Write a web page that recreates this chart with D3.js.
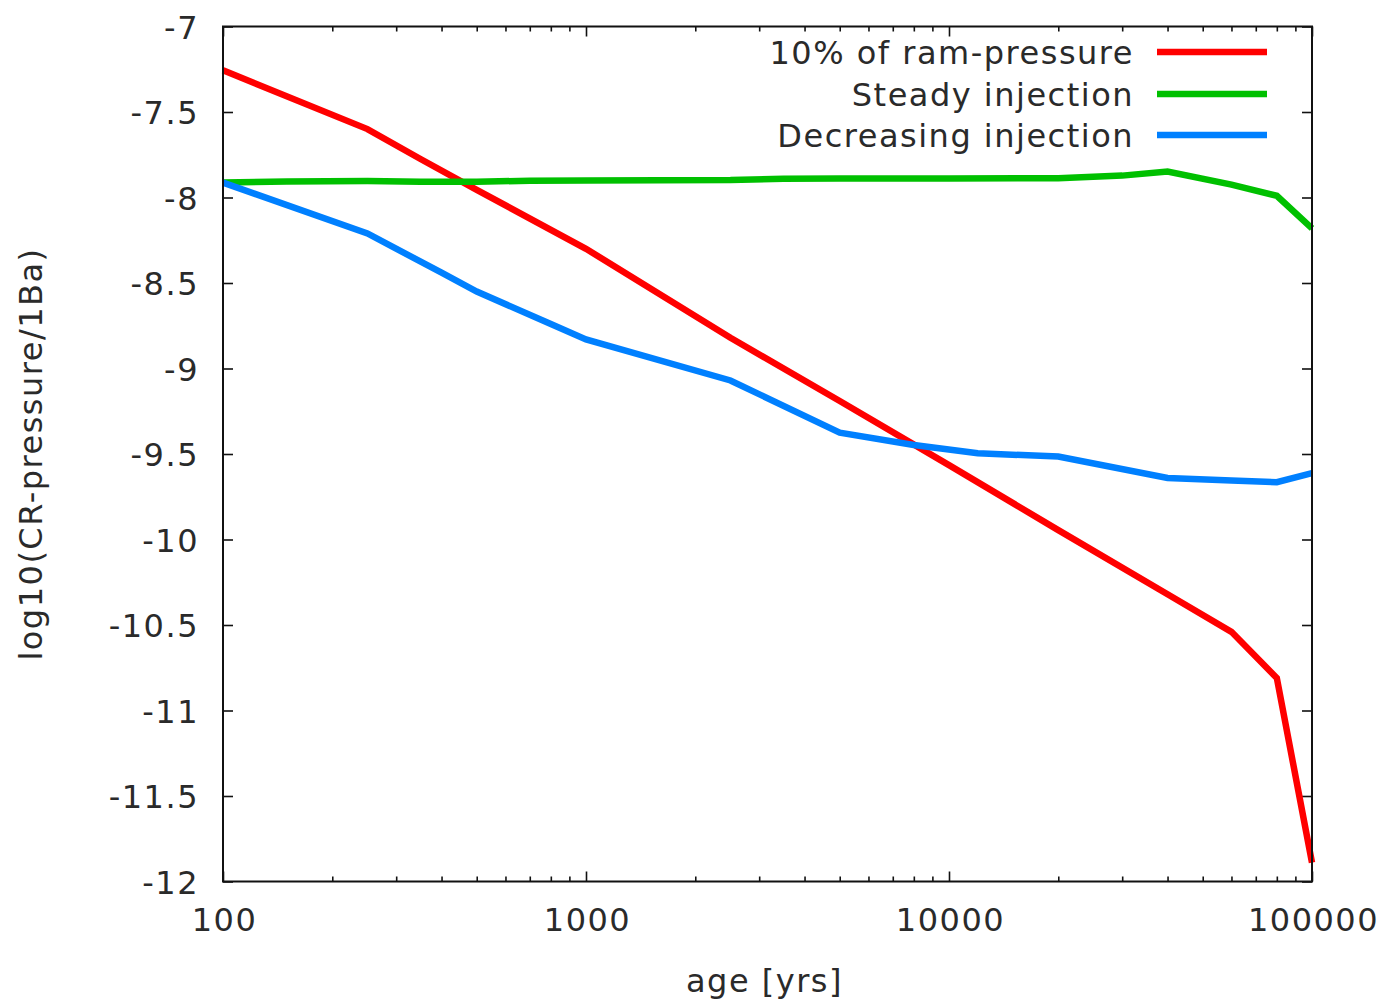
<!DOCTYPE html>
<html>
<head>
<meta charset="utf-8">
<script src="https://cdn.jsdelivr.net/npm/d3@7"></script>
<style>
  html, body { margin: 0; padding: 0; background: #fff; }
  svg text { font-family: "DejaVu Sans", sans-serif; fill: #2a2a2a; letter-spacing: 1.5px; }
</style>
</head>
<body>
<svg id="chart" width="1393" height="1000"></svg>
<script>
// ---- data ----
const seriesNames = ["10% of ram-pressure", "Steady injection", "Decreasing injection"];
const seriesColors = ["#ff0000", "#00c000", "#0080ff"];

const ramAges = [100, 250, 350, 500, 1000, 2500, 5000, 10000, 20000, 40000, 60000, 80000, 100000];
const ramValues = [-7.256, -7.60, -7.775, -7.955, -8.30, -8.82, -9.19, -9.565, -9.945, -10.32, -10.54, -10.81, -11.89];

const steadyAges = [100, 150, 250, 350, 500, 700, 1000, 2500, 3500, 5000, 10000, 20000, 30000, 40000, 60000, 80000, 100000];
const steadyValues = [-7.912, -7.906, -7.904, -7.908, -7.908, -7.902, -7.900, -7.898, -7.890, -7.889, -7.889, -7.887, -7.872, -7.848, -7.925, -7.99, -8.18];

const decAges = [100, 250, 400, 500, 800, 1000, 2500, 5000, 8000, 12000, 20000, 40000, 60000, 80000, 100000];
const decValues = [-7.913, -8.21, -8.44, -8.55, -8.74, -8.83, -9.07, -9.375, -9.447, -9.496, -9.515, -9.64, -9.655, -9.665, -9.612];

const xTickValues = [100, 1000, 10000, 100000];
const xTickLabels = ["100", "1000", "10000", "100000"];
const yTickValues = [-7, -7.5, -8, -8.5, -9, -9.5, -10, -10.5, -11, -11.5, -12];
const yTickLabels = ["-7", "-7.5", "-8", "-8.5", "-9", "-9.5", "-10", "-10.5", "-11", "-11.5", "-12"];
const xLabel = "age [yrs]";
const yLabel = "log10(CR-pressure/1Ba)";

// ---- layout ----
const L = 223, R = 1312, T = 26.5, B = 881.5;
const svg = d3.select("#chart");

const x = d3.scaleLog().domain([100, 100000]).range([L, R]);
const y = d3.scaleLinear().domain([-12, -7]).range([B, T]);

const series = [
  { name: seriesNames[0], color: seriesColors[0], ages: ramAges, vals: ramValues },
  { name: seriesNames[1], color: seriesColors[1], ages: steadyAges, vals: steadyValues },
  { name: seriesNames[2], color: seriesColors[2], ages: decAges, vals: decValues }
];

// minor ticks
const minorVals = [];
for (let d = 100; d < 100000; d *= 10) for (let k = 2; k <= 9; k++) minorVals.push(d * k);

const fontSize = 32;
const tickStyle = g => g.selectAll("line").attr("stroke", "#111").attr("stroke-width", 1.6);

// bottom axis major
svg.append("g").attr("transform", `translate(0,${B})`)
  .call(d3.axisBottom(x).tickValues(xTickValues).tickFormat((d, i) => xTickLabels[i]).tickSizeInner(-10).tickSizeOuter(0))
  .call(g => g.select(".domain").remove())
  .call(tickStyle)
  .call(g => g.selectAll("text").attr("font-size", fontSize).attr("font-family", "DejaVu Sans").attr("fill", "#2a2a2a").attr("dy", "0.71em").attr("y", 27).attr("dx", 1));
// bottom minor
svg.append("g").attr("transform", `translate(0,${B})`)
  .call(d3.axisBottom(x).tickValues(minorVals).tickFormat("").tickSizeInner(-5).tickSizeOuter(0))
  .call(g => g.select(".domain").remove()).call(tickStyle);
// top mirror
svg.append("g").attr("transform", `translate(0,${T})`)
  .call(d3.axisTop(x).tickValues(xTickValues).tickFormat("").tickSizeInner(-10).tickSizeOuter(0))
  .call(g => g.select(".domain").remove()).call(tickStyle);
svg.append("g").attr("transform", `translate(0,${T})`)
  .call(d3.axisTop(x).tickValues(minorVals).tickFormat("").tickSizeInner(-5).tickSizeOuter(0))
  .call(g => g.select(".domain").remove()).call(tickStyle);

// left axis
svg.append("g").attr("transform", `translate(${L},0)`)
  .call(d3.axisLeft(y).tickValues(yTickValues).tickFormat((d, i) => yTickLabels[i]).tickSizeInner(-10).tickSizeOuter(0).tickPadding(24))
  .call(g => g.select(".domain").remove())
  .call(tickStyle)
  .call(g => g.selectAll("text").attr("font-size", fontSize).attr("font-family", "DejaVu Sans").attr("fill", "#2a2a2a").attr("dy", "0.36em"));
// right mirror
svg.append("g").attr("transform", `translate(${R},0)`)
  .call(d3.axisRight(y).tickValues(yTickValues).tickFormat("").tickSizeInner(-10).tickSizeOuter(0))
  .call(g => g.select(".domain").remove()).call(tickStyle);

// lines
const line = d3.line().x(d => x(d[0])).y(d => y(d[1]));
svg.append("g").selectAll("path").data(series).join("path")
  .attr("d", s => line(s.ages.map((a, i) => [a, s.vals[i]])))
  .attr("fill", "none")
  .attr("stroke", s => s.color)
  .attr("stroke-width", 6.5)
  .attr("stroke-linejoin", "miter")
  .attr("stroke-linecap", "butt");

// frame
svg.append("rect").attr("x", L).attr("y", T).attr("width", R - L).attr("height", B - T)
  .attr("fill", "none").attr("stroke", "#111").attr("stroke-width", 2);

// legend
const legY = [52, 94, 135];
const leg = svg.append("g").selectAll("g").data(series).join("g")
  .attr("transform", (s, i) => `translate(0,${legY[i]})`);
leg.append("text").attr("x", 1134).attr("y", 0).attr("dy", "0.36em")
  .attr("text-anchor", "end").attr("font-size", fontSize).text(s => s.name);
leg.append("line").attr("x1", 1157).attr("x2", 1267).attr("y1", 0).attr("y2", 0)
  .attr("stroke", s => s.color).attr("stroke-width", 6.5);

// axis labels
svg.append("text").attr("x", (L + R) / 2 - 3).attr("y", 992).attr("text-anchor", "middle")
  .attr("font-size", fontSize).text(xLabel);
svg.append("text").attr("transform", `translate(42,${(T + B) / 2}) rotate(-90)`)
  .attr("text-anchor", "middle").attr("font-size", fontSize).text(yLabel);
</script>
</body>
</html>
